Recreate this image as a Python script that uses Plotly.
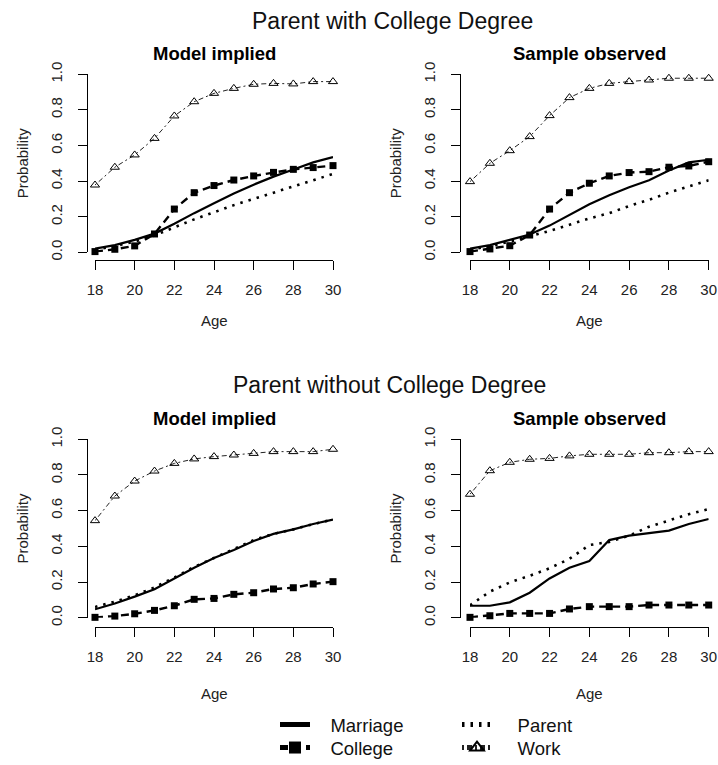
import plotly.graph_objects as go

W, H = 718, 765

ages = list(range(18, 31))

# Parent with College Degree - Model implied
mc_marriage = [0.02, 0.04, 0.07, 0.105, 0.16, 0.22, 0.275, 0.33, 0.38, 0.425, 0.465, 0.505, 0.535]
mc_college = [0.004, 0.017, 0.036, 0.103, 0.243, 0.335, 0.375, 0.406, 0.429, 0.449, 0.466, 0.476, 0.487]
mc_parent = [0.015, 0.035, 0.06, 0.095, 0.14, 0.185, 0.225, 0.265, 0.30, 0.335, 0.37, 0.405, 0.44]
mc_work = [0.378, 0.478, 0.547, 0.64, 0.766, 0.846, 0.893, 0.921, 0.944, 0.949, 0.946, 0.959, 0.959]

# Parent with College Degree - Sample observed
sc_marriage = [0.02, 0.04, 0.07, 0.10, 0.15, 0.21, 0.27, 0.32, 0.365, 0.405, 0.46, 0.505, 0.52]
sc_college = [0.004, 0.019, 0.037, 0.097, 0.243, 0.335, 0.388, 0.429, 0.448, 0.453, 0.478, 0.485, 0.509]
sc_parent = [0.015, 0.035, 0.06, 0.09, 0.12, 0.155, 0.19, 0.22, 0.26, 0.295, 0.335, 0.37, 0.405]
sc_work = [0.397, 0.50, 0.571, 0.65, 0.768, 0.869, 0.921, 0.949, 0.959, 0.968, 0.978, 0.978, 0.978]

# Parent without College Degree - Model implied
mn_marriage = [0.047, 0.08, 0.118, 0.16, 0.22, 0.28, 0.335, 0.38, 0.43, 0.47, 0.495, 0.525, 0.55]
mn_college = [0.002, 0.009, 0.022, 0.041, 0.067, 0.103, 0.108, 0.131, 0.14, 0.161, 0.168, 0.189, 0.202]
mn_parent = [0.06, 0.09, 0.125, 0.17, 0.225, 0.285, 0.335, 0.385, 0.435, 0.47, 0.495, 0.525, 0.55]
mn_work = [0.544, 0.682, 0.766, 0.822, 0.865, 0.89, 0.903, 0.912, 0.921, 0.931, 0.931, 0.931, 0.944]

# Parent without College Degree - Sample observed
sn_marriage = [0.067, 0.067, 0.086, 0.14, 0.22, 0.28, 0.318, 0.435, 0.46, 0.473, 0.488, 0.525, 0.553]
sn_college = [0.002, 0.011, 0.024, 0.024, 0.024, 0.049, 0.062, 0.062, 0.062, 0.071, 0.071, 0.071, 0.071]
sn_parent = [0.07, 0.146, 0.198, 0.235, 0.277, 0.33, 0.407, 0.425, 0.46, 0.51, 0.545, 0.58, 0.609]
sn_work = [0.692, 0.824, 0.871, 0.888, 0.893, 0.907, 0.916, 0.916, 0.916, 0.925, 0.925, 0.931, 0.931]

x_ticks = [18, 20, 22, 24, 26, 28, 30]
y_ticks = [0.0, 0.2, 0.4, 0.6, 0.8, 1.0]

main_titles = ["Parent with College Degree", "Parent without College Degree"]
sub_titles = ["Model implied", "Sample observed"]
series_names = ["Marriage", "College", "Parent", "Work"]

panels = [
    (mc_marriage, mc_college, mc_parent, mc_work),
    (sc_marriage, sc_college, sc_parent, sc_work),
    (mn_marriage, mn_college, mn_parent, mn_work),
    (sn_marriage, sn_college, sn_parent, sn_work),
]

FONT = "Liberation Sans, Arial, sans-serif"
NB = "\u00a0"

def px(xp):
    return xp / W

def py(yp):
    return 1 - yp / H

# layout geometry (pixels)
col_x = [(95, 333), (470, 708.7)]        # x pixel for age 18 and 30
col_axis = [86.5, 460]                   # y axis line x
row_y = [(252.3, 74.3), (617.7, 439.3)]  # y pixel for prob 0 and 1
row_axis = [259.5, 626.7]                # x axis line y

styles = [
    dict(mode="lines", line=dict(color="black", width=2.2, dash="solid"), legend="legend"),
    dict(mode="lines+markers", line=dict(color="black", width=2.4, dash="8px,5px"),
         marker=dict(symbol="square", size=7, color="black"), legend="legend2"),
    dict(mode="lines", line=dict(color="black", width=2.6, dash="2.5px,6px"), legend="legend3"),
    dict(mode="lines+markers", line=dict(color="#222", width=1, dash="2px,3px,5px,3px"),
         marker=dict(symbol="triangle-up-open", size=8, color="black", line=dict(width=1, color="black")),
         legend="legend4"),
]
name_pad = [3, 3, 4, 4]

fig = go.Figure()
annotations = []

for i, series in enumerate(panels):
    r, c = divmod(i, 2)
    k = i + 1
    xa = "x" if k == 1 else f"x{k}"
    ya = "y" if k == 1 else f"y{k}"
    for name, pad, s, vals in zip(series_names, name_pad, styles, series):
        fig.add_trace(go.Scatter(x=ages, y=vals, xaxis=xa, yaxis=ya, name=NB * pad + name,
                                 showlegend=(i == 0), cliponaxis=False, hoverinfo="skip", **s))
    x0, x1 = col_x[c]
    y0, y1 = row_y[r]
    xkey = "xaxis" if k == 1 else f"xaxis{k}"
    ykey = "yaxis" if k == 1 else f"yaxis{k}"
    fig.update_layout(**{
        xkey: dict(domain=[px(x0), px(x1)], range=[18, 30], anchor="free", position=py(row_axis[r]),
                   showline=True, linecolor="black", linewidth=1, ticks="outside", ticklen=9,
                   tickcolor="black", tickwidth=1, tickvals=x_ticks, showgrid=False, zeroline=False,
                   tickfont=dict(family=FONT, size=15, color="#222"), ticklabelstandoff=7,
                   automargin=False),
        ykey: dict(domain=[py(y0), py(y1)], range=[0, 1], anchor="free", position=px(col_axis[c]),
                   showline=True, linecolor="black", linewidth=1, ticks="outside", ticklen=9,
                   tickcolor="black", tickwidth=1, tickvals=y_ticks, tickformat=".1f", tickangle=-90,
                   showgrid=False, zeroline=False, automargin=False,
                   tickfont=dict(family=FONT, size=15, color="#222"), ticklabelstandoff=10),
    })
    cx = (x0 + x1) / 2
    annotations.append(dict(text="<b>%s</b>" % sub_titles[c], x=px(cx), y=py([53.5, 418.3][r]),
                            xref="paper", yref="paper", showarrow=False, xanchor="center", yanchor="middle",
                            font=dict(family=FONT, size=18.5, color="black")))
    annotations.append(dict(text="Age", x=px(cx), y=py([320, 693][r]), xref="paper", yref="paper",
                            showarrow=False, xanchor="center", yanchor="middle",
                            font=dict(family=FONT, size=15, color="#222")))
    annotations.append(dict(text="Probability", x=px([22, 395][c]), y=py((y0 + y1) / 2), xref="paper",
                            yref="paper", showarrow=False, textangle=-90, xanchor="center", yanchor="middle",
                            font=dict(family=FONT, size=15, color="#222")))

annotations.append(dict(text=main_titles[0], x=px(393), y=py(20.7), xref="paper", yref="paper",
                        showarrow=False, xanchor="center", yanchor="middle",
                        font=dict(family=FONT, size=23, color="#111")))
annotations.append(dict(text=main_titles[1], x=px(389.5), y=py(385), xref="paper", yref="paper",
                        showarrow=False, xanchor="center", yanchor="middle",
                        font=dict(family=FONT, size=23, color="#111")))

legend_common = dict(orientation="v", bgcolor="rgba(0,0,0,0)", borderwidth=0,
                     font=dict(family=FONT, size=18.5, color="#111"), yanchor="middle", xanchor="left",
                     itemsizing="constant")

fig.update_layout(
    width=W, height=H,
    margin=dict(l=0, r=0, t=0, b=0, pad=0, autoexpand=False),
    paper_bgcolor="white", plot_bgcolor="white",
    annotations=annotations,
    legend=dict(x=px(275), y=py(725), **legend_common),
    legend2=dict(x=px(275), y=py(748), **legend_common),
    legend3=dict(x=px(457), y=py(725), **legend_common),
    legend4=dict(x=px(457), y=py(748), **legend_common),
)

fig.write_html("out.html", config={"displayModeBar": False},
               post_script="document.body.style.margin='0';document.body.style.padding='0';")
